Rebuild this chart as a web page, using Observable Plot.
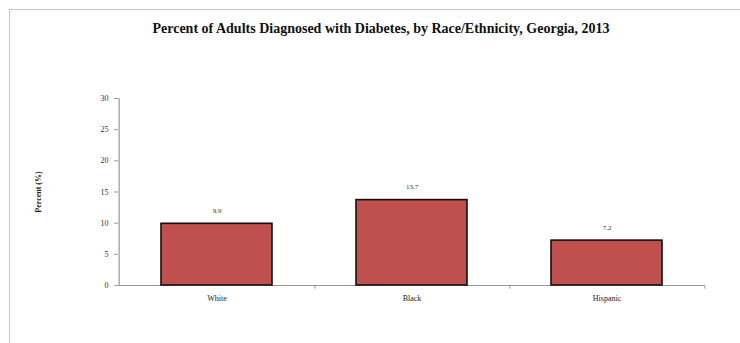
<!DOCTYPE html>
<html><head><meta charset="utf-8">
<script src="https://cdn.jsdelivr.net/npm/d3@7"></script>
<script src="https://cdn.jsdelivr.net/npm/@observablehq/plot@0.6"></script>
<style>
body{margin:0;background:#fff;font-family:"Liberation Serif",serif;}
#frame{position:absolute;left:9px;top:9px;width:760px;height:360px;border-left:1px solid #c8c8c8;border-top:1px solid #c8c8c8;}
#title{position:absolute;left:0;top:0;width:740px;height:50px;text-align:center;font-weight:bold;font-size:14px;line-height:14px;padding-top:22px;box-sizing:border-box;padding-left:22px;color:#111;}
#chart{position:absolute;left:0;top:50px;}
</style></head><body>
<div id="frame"></div>
<div id="title">Percent of Adults Diagnosed with Diabetes, by Race/Ethnicity, Georgia, 2013</div>
<div id="chart"></div>
<script>
const categories = ["White","Black","Hispanic"];
const values = [9.9, 13.7, 7.2];
const labels = ["9.9","13.7","7.2"];
const yTicks = [0,5,10,15,20,25,30];
const data = categories.map((c,i)=>({cat:c, value:values[i], label:labels[i]}));

const W=740, H=293, ml=118, mr=35, mt=48, mb=58;
const half = (W-ml-mr)/categories.length/2;

const chart = Plot.plot({
  width:W, height:H, marginLeft:ml, marginRight:mr, marginTop:mt, marginBottom:mb,
  style:{fontFamily:"Liberation Serif, serif", fontSize:"8px", color:"#222", background:"transparent"},
  x:{domain:categories, paddingInner:0.433, paddingOuter:0.2165, label:null},
  y:{domain:[0,30], label:null},
  marks:[
    Plot.ruleY([0],{stroke:"#999", strokeWidth:1.2}),
    Plot.ruleX([0],{x:()=>categories[0], dx:-half, y1:0, y2:30, stroke:"#999", strokeWidth:1.2}),
    Plot.ruleX(categories,{x:d=>d, dx:half, y1:0, y2:-0.6, stroke:"#999"}),
    Plot.barY(data,{x:"cat", y:"value", fill:"#c0504d", stroke:"#111", strokeWidth:1.6}),
    Plot.text(data,{x:"cat", y:"value", text:"label", dy:-13, fontSize:7, fill:"#333"}),
    Plot.axisY({ticks:yTicks, tickSize:4, tickPadding:6, stroke:"#999", fill:"#333", fontSize:8}),
    Plot.axisX({tickSize:0, tickPadding:10, fill:"#222", fontSize:8}),
    Plot.text(["Percent (%)"],{frameAnchor:"left", textAnchor:"middle", dx:-80, rotate:-90, fontWeight:"bold", fontSize:8, fill:"#222"})
  ]
});
document.getElementById("chart").appendChild(chart);
</script>
</body></html>
